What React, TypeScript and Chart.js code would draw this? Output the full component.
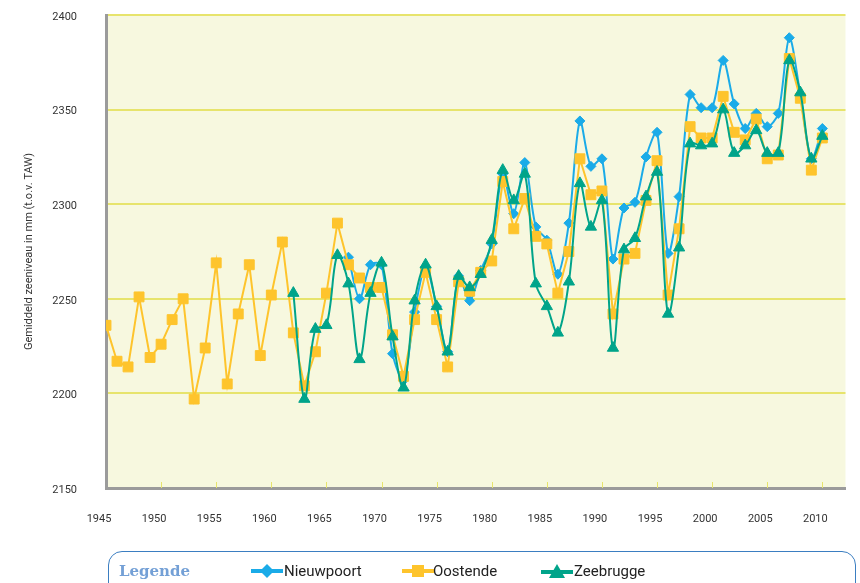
import React, { useEffect, useRef } from 'react';
import { Chart, registerables } from 'chart.js';

Chart.register(...registerables);

const years = [
  1945, 1946, 1947, 1948, 1949, 1950, 1951, 1952, 1953, 1954,
  1955, 1956, 1957, 1958, 1959, 1960, 1961, 1962, 1963, 1964,
  1965, 1966, 1967, 1968, 1969, 1970, 1971, 1972, 1973, 1974,
  1975, 1976, 1977, 1978, 1979, 1980, 1981, 1982, 1983, 1984,
  1985, 1986, 1987, 1988, 1989, 1990, 1991, 1992, 1993, 1994,
  1995, 1996, 1997, 1998, 1999, 2000, 2001, 2002, 2003, 2004,
  2005, 2006, 2007, 2008, 2009, 2010,
];

const nieuwpoort: (number | null)[] = [
  null, null, null, null, null, null, null, null, null, null,
  null, null, null, null, null, null, null, null, null, null,
  null, null, 2272, 2250, 2268, 2268, 2221, 2207, 2243, 2267,
  2246, 2222, 2262, 2249, 2265, 2279, 2316, 2295, 2322, 2288,
  2281, 2263, 2290, 2344, 2320, 2324, 2271, 2298, 2301, 2325,
  2338, 2274, 2304, 2358, 2351, 2351, 2376, 2353, 2340, 2348,
  2341, 2348, 2388, 2358, 2324, 2340,
];

const oostende: (number | null)[] = [
  2236, 2217, 2214, 2251, 2219, 2226, 2239, 2250, 2197, 2224,
  2269, 2205, 2242, 2268, 2220, 2252, 2280, 2232, 2204, 2222,
  2253, 2290, 2268, 2261, 2256, 2256, 2231, 2209, 2239, 2264,
  2239, 2214, 2259, 2254, 2264, 2270, 2312, 2287, 2303, 2283,
  2279, 2253, 2275, 2324, 2305, 2307, 2242, 2271, 2274, 2302,
  2323, 2252, 2287, 2341, 2335, 2335, 2357, 2338, 2334, 2345,
  2324, 2326, 2377, 2356, 2318, 2335,
];

const zeebrugge: (number | null)[] = [
  null, null, null, null, null, null, null, null, null, null,
  null, null, null, null, null, null, null, 2253, 2197, 2234,
  2236, 2273, 2258, 2218, 2253, 2269, 2230, 2203, 2249, 2268,
  2246, 2222, 2262, 2256, 2263, 2281, 2318, 2302, 2316, 2258,
  2246, 2232, 2259, 2311, 2288, 2302, 2224, 2276, 2282, 2304,
  2317, 2242, 2277, 2332, 2331, 2332, 2350, 2327, 2331, 2339,
  2327, 2327, 2376, 2359, 2324, 2336,
];

const xTickYears = [1945, 1950, 1955, 1960, 1965, 1970, 1975, 1980, 1985, 1990, 1995, 2000, 2005, 2010];
const yTickValues = [2150, 2200, 2250, 2300, 2350, 2400];

const seriesNames = ['Nieuwpoort', 'Oostende', 'Zeebrugge'];

const BLUE = '#1AABE8';
const YELLOW = '#FEC42C';
const TEAL = '#00A48A';
const GRID = '#E7E46C';
const PLOT_BG = '#F7F8DF';
const AXIS = '#9B9B9B';
const FONT = 'Roboto, "DejaVu Sans", sans-serif';

function toPoints(vals: (number | null)[]) {
  const pts: { x: number; y: number }[] = [];
  years.forEach((yr, i) => {
    const v = vals[i];
    if (v !== null && v !== undefined) pts.push({ x: yr, y: v });
  });
  return pts;
}

export default function App() {
  const ref = useRef<HTMLCanvasElement | null>(null);

  useEffect(() => {
    if (!ref.current) return;

    const bgPlugin = {
      id: 'plotBg',
      beforeDraw(chart: any) {
        const { ctx, chartArea: a } = chart;
        ctx.save();
        ctx.fillStyle = PLOT_BG;
        ctx.fillRect(a.left, a.top, a.right - a.left, a.bottom - a.top);
        ctx.restore();
      },
    };

    const innerTicks = {
      id: 'innerTicks',
      beforeDatasetsDraw(chart: any) {
        const { ctx, chartArea: a } = chart;
        const xs = chart.scales.x;
        ctx.save();
        ctx.strokeStyle = GRID;
        ctx.lineWidth = 1;
        xTickYears.slice(1).forEach((v) => {
          const px = Math.round(xs.getPixelForValue(v)) + 0.5;
          ctx.beginPath();
          ctx.moveTo(px, a.bottom - 6);
          ctx.lineTo(px, a.bottom);
          ctx.stroke();
        });
        ctx.restore();
      },
    };

    const chart = new Chart(ref.current, {
      type: 'line',
      data: {
        datasets: [
          {
            label: seriesNames[0],
            data: toPoints(nieuwpoort),
            borderColor: BLUE,
            backgroundColor: BLUE,
            pointBackgroundColor: BLUE,
            pointBorderColor: BLUE,
            pointStyle: 'rectRot',
            pointRadius: 5,
            pointBorderWidth: 1,
            borderWidth: 2,
            tension: 0.3,
            order: 3,
          },
          {
            label: seriesNames[1],
            data: toPoints(oostende),
            borderColor: YELLOW,
            backgroundColor: YELLOW,
            pointBackgroundColor: YELLOW,
            pointBorderColor: YELLOW,
            pointStyle: 'rect',
            pointRadius: 7,
            pointBorderWidth: 1,
            borderWidth: 2,
            tension: 0,
            order: 2,
          },
          {
            label: seriesNames[2],
            data: toPoints(zeebrugge),
            borderColor: TEAL,
            backgroundColor: TEAL,
            pointBackgroundColor: TEAL,
            pointBorderColor: TEAL,
            pointStyle: 'triangle',
            pointRadius: 6.5,
            pointBorderWidth: 1,
            borderWidth: 2,
            tension: 0.35,
            order: 1,
          },
        ],
      },
      options: {
        animation: false,
        responsive: false,
        maintainAspectRatio: false,
        layout: { padding: { left: 0, top: 15, right: 9, bottom: 55 } },
        plugins: {
          legend: { display: false },
          title: { display: false },
          tooltip: { enabled: false },
        },
        scales: {
          x: {
            type: 'linear',
            min: 1945,
            max: 2012.1,
            afterBuildTicks: (s: any) => {
              s.ticks = xTickYears.map((v) => ({ value: v }));
            },
            afterFit: (s: any) => {
              s.height = 40;
              s.paddingTop = 0;
              s.paddingBottom = 0;
            },
            grid: { display: false, drawTicks: false },
            border: { display: true, color: AXIS, width: 3 },
            ticks: {
              padding: 25,
              labelOffset: -7,
              maxRotation: 0,
              autoSkip: false,
              color: '#333',
              font: { family: FONT, size: 11 },
              callback: (v: any) => String(v),
            },
          },
          y: {
            min: 2150,
            max: 2400,
            afterBuildTicks: (s: any) => {
              s.ticks = yTickValues.map((v) => ({ value: v }));
            },
            afterFit: (s: any) => {
              s.width = 106;
              s.paddingTop = 0;
              s.paddingBottom = 0;
            },
            grid: { color: GRID, lineWidth: 2, drawTicks: false },
            border: { display: true, color: AXIS, width: 3 },
            ticks: {
              padding: 29,
              labelOffset: 2,
              color: '#333',
              font: { family: FONT, size: 11 },
              callback: (v: any) => String(v),
            },
            title: {
              display: true,
              text: 'Gemiddeld zeeniveau in mm (t.o.v. TAW)',
              color: '#333',
              font: { family: FONT, size: 11 },
              padding: 23,
            },
          },
        },
      },
      plugins: [bgPlugin, innerTicks],
    } as any);

    return () => chart.destroy();
  }, []);

  const textStyle: React.CSSProperties = {
    position: 'absolute',
    top: 561,
    fontFamily: FONT,
    fontSize: 15,
    color: '#222',
    lineHeight: '20px',
    whiteSpace: 'nowrap',
  };

  return (
    <div
      style={{
        position: 'fixed',
        left: 0,
        top: 0,
        width: 860,
        height: 583,
        overflow: 'hidden',
        background: '#fff',
      }}
    >
      <canvas ref={ref} width={860} height={583} style={{ position: 'absolute', left: 0, top: 0 }} />
      <div
        style={{
          position: 'absolute',
          left: 108,
          top: 551,
          width: 748,
          height: 60,
          border: '1px solid #3B7EC1',
          borderRadius: 14,
          boxSizing: 'border-box',
        }}
      />
      <div
        style={{
          position: 'absolute',
          left: 119,
          top: 561,
          fontFamily: '"DejaVu Serif", "Liberation Serif", serif',
          fontWeight: 'bold',
          fontSize: 15,
          lineHeight: '20px',
          color: '#74A0D6',
        }}
      >
        Legende
      </div>
      <svg style={{ position: 'absolute', left: 251, top: 563 }} width={32} height={16}>
        <line x1={0} y1={8} x2={32} y2={8} stroke={BLUE} strokeWidth={4} />
        <polygon points="16,1 23,8 16,15 9,8" fill={BLUE} />
      </svg>
      <div style={{ ...textStyle, left: 284 }}>{seriesNames[0]}</div>
      <svg style={{ position: 'absolute', left: 402, top: 563 }} width={32} height={16}>
        <line x1={0} y1={8} x2={32} y2={8} stroke={YELLOW} strokeWidth={4} />
        <rect x={10} y={2} width={12} height={12} fill={YELLOW} />
      </svg>
      <div style={{ ...textStyle, left: 433 }}>{seriesNames[1]}</div>
      <svg style={{ position: 'absolute', left: 541, top: 563 }} width={32} height={16}>
        <line x1={0} y1={9} x2={32} y2={9} stroke={TEAL} strokeWidth={4} />
        <polygon points="16,1 24,15 8,15" fill={TEAL} />
      </svg>
      <div style={{ ...textStyle, left: 574 }}>{seriesNames[2]}</div>
    </div>
  );
}
